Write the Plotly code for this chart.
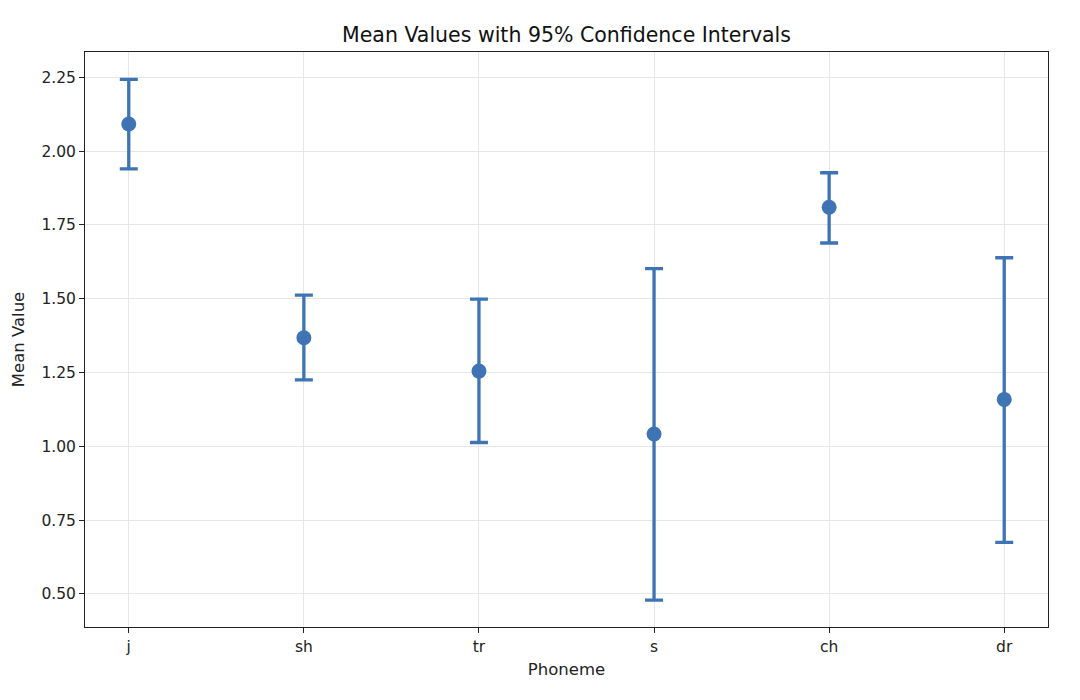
import plotly.graph_objects as go

phonemes = ["j", "sh", "tr", "s", "ch", "dr"]
means = [2.092, 1.368, 1.255, 1.042, 1.810, 1.159]
ci_upper = [2.243, 1.512, 1.499, 1.602, 1.927, 1.639]
ci_lower = [1.940, 1.225, 1.013, 0.479, 1.689, 0.675]
y_ticks = [0.50, 0.75, 1.00, 1.25, 1.50, 1.75, 2.00, 2.25]

err_plus = [u - m for u, m in zip(ci_upper, means)]
err_minus = [m - l for m, l in zip(means, ci_lower)]

color = "#3e74b4"
font_family = "DejaVu Sans"

fig = go.Figure()
fig.add_trace(go.Scatter(
    x=list(range(len(phonemes))),
    y=means,
    mode="markers",
    marker=dict(color=color, size=15),
    error_y=dict(type="data", symmetric=False, array=err_plus, arrayminus=err_minus,
                 color=color, thickness=3.3, width=9),
    showlegend=False,
))

fig.update_layout(
    width=1080, height=700,
    margin=dict(l=77, r=40, t=44, b=81),
    paper_bgcolor="white", plot_bgcolor="white",
    font=dict(family=font_family, color="#222222"),
    title=dict(text="Mean Values with 95% Confidence Intervals", x=(85 + 1048) / 2 / 1080 - 8 / 1080,
               xanchor="center",
               y=1 - 27 / 700, yanchor="middle", yref="container",
               font=dict(size=20.5, color="#111111")),
)
fig.update_xaxes(
    tickmode="array", tickvals=list(range(len(phonemes))), ticktext=phonemes,
    range=[-0.25, 5.25],
    showgrid=True, gridcolor="#e6e6e6", gridwidth=1,
    showline=True, linecolor="#222222", linewidth=1, mirror=True,
    ticks="outside", ticklen=5, tickcolor="#222222",
    tickfont=dict(size=15.5),
    title=dict(text="Phoneme", font=dict(size=16.5), standoff=8),
    zeroline=False, automargin=False,
)
fig.update_yaxes(
    tickmode="array", tickvals=y_ticks, ticktext=[f"{v:.2f}" for v in y_ticks],
    range=[0.388, 2.336],
    showgrid=True, gridcolor="#e6e6e6", gridwidth=1,
    showline=True, linecolor="#222222", linewidth=1, mirror=True,
    ticks="outside", ticklen=5, tickcolor="#222222",
    tickfont=dict(size=15.5),
    title=dict(text="Mean Value", font=dict(size=16.5), standoff=12),
    zeroline=False, automargin=False,
)

fig.write_html("out.html")
